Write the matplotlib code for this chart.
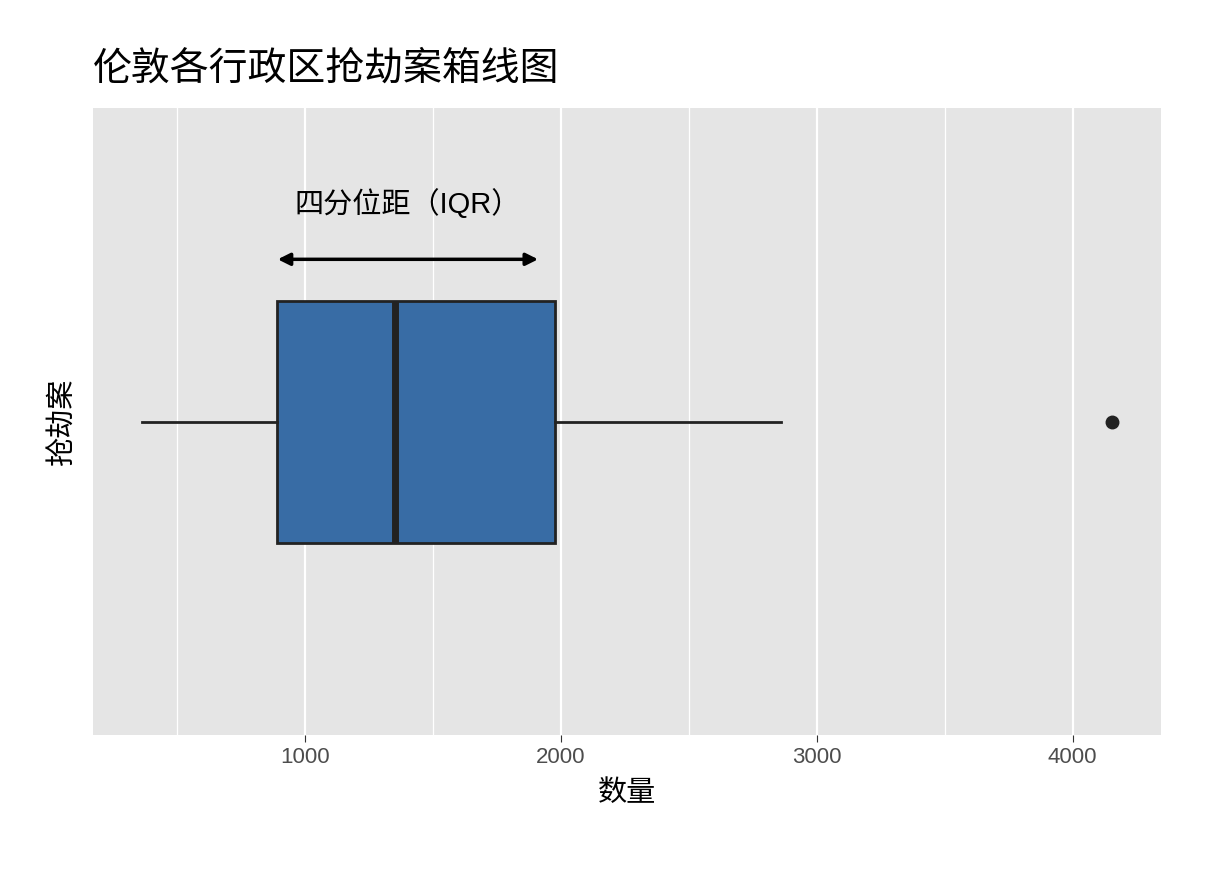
import matplotlib.pyplot as plt

plt.rcParams['font.family'] = ['Liberation Sans', 'Noto Sans CJK SC', 'DejaVu Sans']

# box statistics
whisker_low = 363
q1 = 891
median = 1352
q3 = 1977
whisker_high = 2859
outliers = [4152]

stats = [{'whislo': whisker_low, 'q1': q1, 'med': median, 'q3': q3,
          'whishi': whisker_high, 'fliers': outliers}]

fig = plt.figure(figsize=(12.16, 8.73), dpi=100)
ax = fig.add_axes([0.0765, 0.158, 0.878, 0.718])
ax.set_facecolor('#e5e5e5')

ax.bxp(stats, vert=False, positions=[1], widths=0.386, showcaps=False,
       patch_artist=True,
       boxprops=dict(facecolor='#386ca5', edgecolor='#222222', linewidth=2),
       medianprops=dict(color='#222222', linewidth=5),
       whiskerprops=dict(color='#222222', linewidth=2),
       flierprops=dict(marker='o', markerfacecolor='#222222',
                       markeredgecolor='#222222', markersize=9))

ax.set_xlim(172, 4344)
ax.set_ylim(0.5, 1.5)
ax.set_xticks([1000, 2000, 3000, 4000])
ax.set_xticks([500, 1500, 2500, 3500], minor=True)
ax.grid(True, axis='x', which='major', color='white', linewidth=1.6)
ax.grid(True, axis='x', which='minor', color='white', linewidth=0.9)
ax.set_axisbelow(True)
ax.set_yticks([])
ax.tick_params(axis='x', which='major', length=5, color='#333333',
               labelsize=16, labelcolor='#4d4d4d')
ax.tick_params(axis='x', which='minor', length=0)
for s in ax.spines.values():
    s.set_visible(False)

ax.set_xlabel('数量', fontsize=21, labelpad=8)
ax.set_ylabel('抢劫案', fontsize=21, labelpad=12)
fig.text(0.0765, 0.92, '伦敦各行政区抢劫案箱线图', fontsize=28, ha='left', va='center')

ax.annotate('', xy=(883, 1.259), xytext=(1922, 1.259),
            arrowprops=dict(arrowstyle='<|-|>', color='black', lw=2.5,
                            mutation_scale=18))
ax.text(1403, 1.348, '四分位距（IQR）', fontsize=21, ha='center', va='center')

fig.savefig('out.png', dpi=100)
